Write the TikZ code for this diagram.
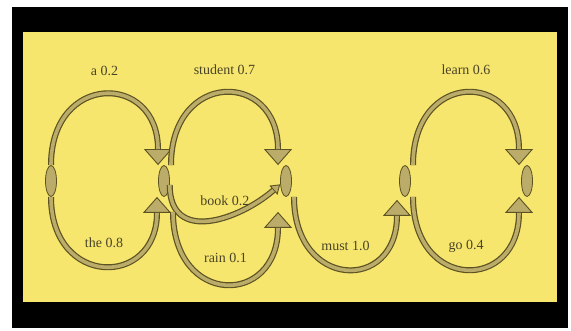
\documentclass[tikz,border=0pt]{standalone}
\usepackage{fontspec}
\setmainfont{Liberation Serif}
\usetikzlibrary{arrows.meta}
\usetikzlibrary{shapes.geometric}

\definecolor{panelcol}{HTML}{F6E66E}
\definecolor{statecol}{HTML}{BBAC69}
\definecolor{edgecol}{HTML}{5C5222}
\definecolor{labelcol}{HTML}{4A4426}

\tikzset{
  state/.style={ellipse, draw=edgecol, fill=statecol, line width=0.8pt,
    minimum width=11pt, minimum height=31pt, inner sep=0pt},
  trans/.style={draw=edgecol, line width=6pt,
    -{Triangle[width=28pt, length=16pt, line width=0.9pt, fill=statecol]},
    postaction={draw=statecol, line width=3.6pt, -, shorten >=16pt}},
  short trans/.style={draw=edgecol, line width=6pt,
    -{Triangle[width=12pt, length=9pt, line width=0.9pt, fill=statecol]},
    postaction={draw=statecol, line width=3.6pt, -, shorten >=9pt}},
  weight/.style={font=\fontsize{14}{16}\selectfont, text=labelcol, inner sep=1pt}
}

\begin{document}
\begin{tikzpicture}[x=1pt, y=-1pt]

\useasboundingbox (0,0) rectangle (571,331);

% frame and panel
\fill[black] (12,7) rectangle (568,328);
\fill[panelcol] (23,32) rectangle (557,302);

% states
\node[state] (q0) at (51,181) {};
\node[state] (q1) at (164,181) {};
\node[state] (q2) at (286,181) {};
\node[state] (q3) at (405,181) {};
\node[state] (q4) at (527,181) {};

% first word
\draw[trans] (q0.north) .. controls +(0,-93) and +(0,-93) .. ([xshift=-6pt]q1.north)
  node[weight, midway, yshift=24pt] {a 0.2};
\draw[trans] (q0.south) .. controls +(0,91) and +(0,91) .. ([xshift=-7pt]q1.south)
  node[weight, midway, yshift=22pt] {the 0.8};

% second word
\draw[trans] ([xshift=7pt]q1.north) .. controls +(0,-95) and +(0,-95) .. ([xshift=-8pt]q2.north)
  node[weight, midway, yshift=24pt] {student 0.7};
\draw[short trans] (q1.-35) .. controls +(0,60) and +(-40,35) .. (q2.210)
  node[weight, midway, xshift=15pt, yshift=20pt] {book 0.2};
\draw[trans] ([xshift=9pt,yshift=-15pt]q1.south) .. controls +(0,95) and +(0,95) .. ([xshift=-8pt,yshift=-15pt]q2.south)
  node[weight, midway, yshift=25pt] {rain 0.1};

% third word
\draw[trans] ([xshift=8pt]q2.south) .. controls +(0,93) and +(0,93) .. ([xshift=-8pt,yshift=-3pt]q3.south)
  node[weight, midway, yshift=22pt] {must 1.0};

% fourth word
\draw[trans] ([xshift=8pt]q3.north) .. controls +(0,-95) and +(0,-95) .. ([xshift=-8pt]q4.north)
  node[weight, midway, yshift=24pt] {learn 0.6};
\draw[trans] ([xshift=8pt]q3.south) .. controls +(0,95) and +(0,95) .. ([xshift=-8pt]q4.south)
  node[weight, midway, yshift=22pt] {go 0.4};

\end{tikzpicture}
\end{document}
